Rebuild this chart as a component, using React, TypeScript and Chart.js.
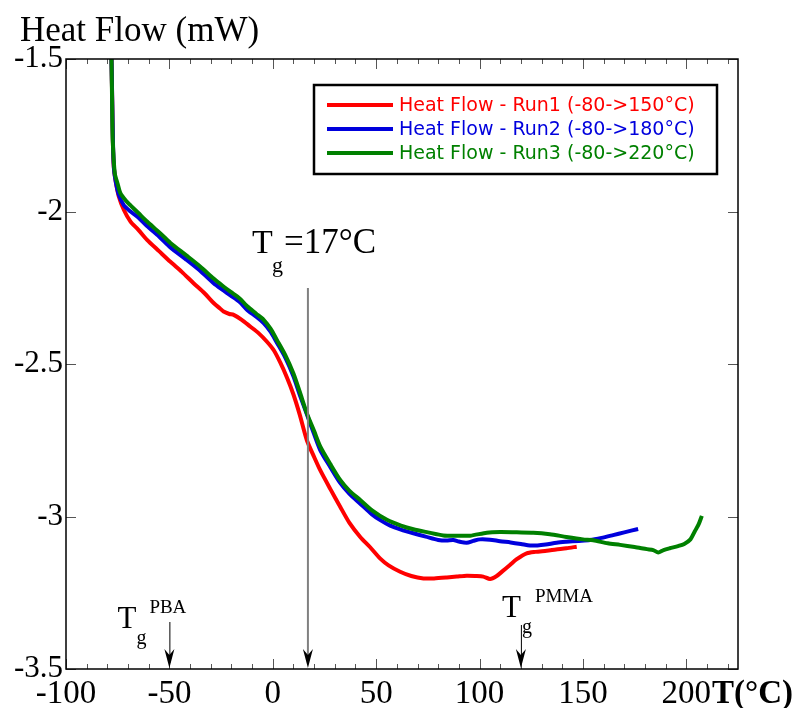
import React, { useEffect, useRef } from 'react';
import { Chart, registerables } from 'chart.js';

Chart.register(...registerables);

// ---- data ----
const run1Temp = [-78, -77.6, -77.3, -76.9, -76, -74.5, -72, -68.8, -65, -60.8, -55, -49.5, -44, -38.3, -33, -28.6, -25.5, -23.8, -21, -18.9, -15, -10.9, -7, -2.8, 0.5, 3.6, 6.9, 10, 13, 16.5, 20, 23, 28, 32.6, 37, 42.3, 47, 52, 56, 61.6, 67, 72.9, 78, 84.2, 89, 93.8, 98, 101.8, 105.1, 108.3, 111, 114.7, 118, 122.8, 127, 132.5, 137, 142, 147];
const run1Flow = [-1.5, -1.66, -1.78, -1.853, -1.9, -1.95, -1.995, -2.033, -2.06, -2.093, -2.13, -2.165, -2.198, -2.235, -2.268, -2.3, -2.318, -2.328, -2.336, -2.339, -2.355, -2.377, -2.398, -2.427, -2.455, -2.495, -2.545, -2.6, -2.665, -2.75, -2.805, -2.849, -2.912, -2.968, -3.02, -3.067, -3.1, -3.138, -3.16, -3.181, -3.195, -3.203, -3.203, -3.2, -3.197, -3.194, -3.195, -3.197, -3.205, -3.195, -3.18, -3.159, -3.14, -3.121, -3.116, -3.112, -3.108, -3.104, -3.099];

const run2Temp = [-78, -77.6, -77.3, -76.8, -76, -74.5, -72, -68.8, -65, -60.8, -55, -49.5, -42, -35, -28.6, -24, -20.5, -16, -12.5, -8, -4.4, -1, 2, 6, 10, 13, 16.5, 20, 23, 28, 32.6, 37, 42.3, 48, 52, 56.8, 62, 68, 74, 80, 84, 87.3, 90, 93.8, 97, 100.2, 105, 109.9, 115, 120, 124.4, 128, 132, 137.3, 142, 148, 153.4, 159, 164.6, 170, 176.7];
const run2Flow = [-1.5, -1.65, -1.77, -1.86, -1.9, -1.945, -1.98, -2.0, -2.02, -2.048, -2.082, -2.118, -2.157, -2.195, -2.235, -2.258, -2.275, -2.297, -2.322, -2.345, -2.366, -2.395, -2.43, -2.478, -2.54, -2.6, -2.665, -2.73, -2.783, -2.84, -2.89, -2.925, -2.958, -2.993, -3.012, -3.03, -3.043, -3.055, -3.066, -3.077, -3.079, -3.077, -3.082, -3.086, -3.08, -3.075, -3.076, -3.081, -3.085, -3.09, -3.095, -3.095, -3.092, -3.086, -3.083, -3.08, -3.077, -3.07, -3.061, -3.052, -3.041];

const run3Temp = [-78, -77.7, -77.4, -76.4, -75, -73.7, -71, -68.8, -65, -60.8, -55, -49.5, -42, -35, -28.6, -24, -20.5, -16, -12.5, -8, -4.4, -1, 2, 6, 10, 13, 16.5, 20, 23, 28, 32.6, 37, 42.3, 48, 55.2, 62, 68, 75, 82.5, 89, 95.4, 103.5, 110, 118, 126, 134, 142, 150, 155, 162, 168, 175, 181, 184, 186.4, 189, 192, 196, 199, 202, 204, 206, 207.5];
const run3Flow = [-1.5, -1.64, -1.766, -1.875, -1.91, -1.94, -1.965, -1.98, -2.005, -2.033, -2.068, -2.103, -2.143, -2.181, -2.22, -2.245, -2.263, -2.285, -2.31, -2.335, -2.355, -2.385, -2.421, -2.47, -2.531, -2.59, -2.662, -2.72, -2.771, -2.83, -2.88, -2.915, -2.946, -2.98, -3.011, -3.03, -3.042, -3.052, -3.062, -3.063, -3.063, -3.053, -3.051, -3.052, -3.053, -3.058, -3.067, -3.075, -3.078, -3.088, -3.093, -3.1, -3.107, -3.11, -3.118, -3.11, -3.104, -3.097, -3.09, -3.075, -3.05, -3.025, -2.998];

const seriesLabels = ['Heat Flow - Run1 (-80->150°C)', 'Heat Flow - Run2 (-80->180°C)', 'Heat Flow - Run3 (-80->220°C)'];
const seriesColors = ['#ff0000', '#0000dd', '#008000'];

const xTickValues = [-100, -50, 0, 50, 100, 150, 200];
const yTickValues = [-1.5, -2, -2.5, -3, -3.5];
const xMin = -100;
const xMax = 225;
const xMajorStep = 50;
const xMinorStep = 10;
const yMin = -3.5;
const yMax = -1.5;

const tgMain = 17;
const tgPBA = -50;
const tgPMMA = 120;

const SERIF = '"Liberation Serif", "Times New Roman", serif';
const SANS = '"DejaVu Sans", Verdana, sans-serif';

function arrowHead(ctx: CanvasRenderingContext2D, px: number, tipY: number) {
  ctx.fillStyle = '#000';
  ctx.beginPath();
  ctx.moveTo(px, tipY);
  ctx.lineTo(px - 5, tipY - 19);
  ctx.lineTo(px, tipY - 13);
  ctx.lineTo(px + 5, tipY - 19);
  ctx.closePath();
  ctx.fill();
}

const overlayPlugin = {
  id: 'overlay',
  afterDatasetsDraw(chart: any) {
    const { ctx, chartArea: a, scales } = chart;
    const x = scales.x;
    const y = scales.y;
    ctx.save();

    // tick marks (inward)
    ctx.strokeStyle = '#555';
    ctx.lineWidth = 1;
    ctx.beginPath();
    for (let t = xMin; t <= xMax; t += xMinorStep) {
      const px = Math.round(x.getPixelForValue(t)) + 0.5;
      const len = t % xMajorStep === 0 ? 10 : 5;
      ctx.moveTo(px, a.bottom);
      ctx.lineTo(px, a.bottom - len);
      ctx.moveTo(px, a.top);
      ctx.lineTo(px, a.top + len);
    }
    yTickValues.forEach((v) => {
      const py = Math.round(y.getPixelForValue(v)) + 0.5;
      ctx.moveTo(a.left, py);
      ctx.lineTo(a.left + 10, py);
      ctx.moveTo(a.right, py);
      ctx.lineTo(a.right - 10, py);
    });
    ctx.stroke();

    // frame
    ctx.strokeStyle = '#000';
    ctx.lineWidth = 1.5;
    ctx.strokeRect(a.left, a.top, a.right - a.left, a.bottom - a.top);

    // Tg = 17°C marker
    const pm = x.getPixelForValue(tgMain);
    ctx.strokeStyle = '#808080';
    ctx.lineWidth = 2;
    ctx.beginPath();
    ctx.moveTo(pm, 288);
    ctx.lineTo(pm, a.bottom - 6);
    ctx.stroke();
    arrowHead(ctx, pm, a.bottom - 1);

    // PBA / PMMA arrows
    const pb = x.getPixelForValue(tgPBA);
    const pp = x.getPixelForValue(tgPMMA);
    ctx.strokeStyle = '#000';
    ctx.lineWidth = 1;
    ctx.beginPath();
    ctx.moveTo(pb + 0.5, 622);
    ctx.lineTo(pb + 0.5, a.bottom - 6);
    ctx.moveTo(pp + 0.5, 625);
    ctx.lineTo(pp + 0.5, a.bottom - 6);
    ctx.stroke();
    arrowHead(ctx, pb, a.bottom - 1);
    arrowHead(ctx, pp, a.bottom - 1);

    // annotation texts
    ctx.fillStyle = '#000';
    ctx.textBaseline = 'alphabetic';
    ctx.textAlign = 'left';
    ctx.font = `34px ${SERIF}`;
    ctx.fillText('T', pm - 56, 253);
    ctx.font = `22px ${SERIF}`;
    ctx.fillText('g', pm - 36, 272);
    ctx.font = `35px ${SERIF}`;
    ctx.fillText('=17°C', pm - 24, 253);

    ctx.font = `31px ${SERIF}`;
    ctx.fillText('T', pb - 52, 628);
    ctx.font = `20px ${SERIF}`;
    ctx.fillText('g', pb - 33, 644);
    ctx.font = `19px ${SERIF}`;
    ctx.fillText('PBA', pb - 20, 613);

    ctx.font = `31px ${SERIF}`;
    ctx.fillText('T', pp - 19, 617);
    ctx.font = `20px ${SERIF}`;
    ctx.fillText('g', pp + 1, 633);
    ctx.font = `19px ${SERIF}`;
    ctx.fillText('PMMA', pp + 14, 602);

    // axis titles
    ctx.font = `35px ${SERIF}`;
    ctx.fillText('Heat Flow (mW)', 20, 41);
    ctx.font = `bold 33px ${SERIF}`;
    ctx.fillText('T(°C)', 712, 703);

    // legend
    const lx = a.left + 248;
    const ly = a.top + 26;
    ctx.strokeStyle = '#000';
    ctx.lineWidth = 2.5;
    ctx.strokeRect(lx, ly, 403, 89);
    ctx.font = `19px ${SANS}`;
    ctx.textBaseline = 'middle';
    chart.data.datasets.forEach((ds: any, i: number) => {
      const yy = ly + 20 + i * 24;
      ctx.strokeStyle = ds.borderColor;
      ctx.lineWidth = 4;
      ctx.beginPath();
      ctx.moveTo(lx + 13, yy);
      ctx.lineTo(lx + 79, yy);
      ctx.stroke();
      ctx.fillStyle = ds.borderColor;
      ctx.fillText(ds.label, lx + 85, yy + 1);
    });

    ctx.restore();
  },
};

export default function App() {
  const ref = useRef<HTMLCanvasElement | null>(null);

  useEffect(() => {
    if (!ref.current) return;
    const temps = [run1Temp, run2Temp, run3Temp];
    const flows = [run1Flow, run2Flow, run3Flow];
    const chart = new Chart(ref.current, {
      type: 'line',
      data: {
        datasets: temps.map((tt, i) => ({
          label: seriesLabels[i],
          data: tt.map((t, j) => ({ x: t, y: flows[i][j] })),
          borderColor: seriesColors[i],
          backgroundColor: seriesColors[i],
          borderWidth: 4,
          pointRadius: 0,
          tension: 0.25,
          fill: false,
          order: 3 - i,
        })),
      },
      options: {
        animation: false,
        responsive: false,
        events: [],
        layout: { padding: { top: 59, right: 61, left: 0, bottom: 0 } },
        plugins: {
          legend: { display: false },
          tooltip: { enabled: false },
        },
        scales: {
          x: {
            type: 'linear',
            min: xMin,
            max: xMax,
            grid: { display: false, drawTicks: false },
            border: { display: false },
            ticks: {
              color: '#000',
              font: { family: SERIF, size: 33 },
              padding: 6,
              maxRotation: 0,
              autoSkip: false,
              callback: (v: any) => String(Number(v)),
            },
            afterBuildTicks: (scale: any) => {
              scale.ticks = xTickValues.map((v) => ({ value: v }));
            },
            afterFit: (scale: any) => {
              scale.height = 39;
            },
          },
          y: {
            type: 'linear',
            min: yMin,
            max: yMax,
            grid: { display: false, drawTicks: false },
            border: { display: false },
            ticks: {
              color: '#000',
              font: { family: SERIF, size: 31 },
              padding: 3,
              autoSkip: false,
              callback: (v: any) => String(Number(v)),
            },
            afterBuildTicks: (scale: any) => {
              scale.ticks = yTickValues.map((v) => ({ value: v }));
            },
            afterFit: (scale: any) => {
              scale.width = 66;
            },
          },
        },
      },
      plugins: [overlayPlugin],
    });
    return () => chart.destroy();
  }, []);

  return (
    <div style={{ position: 'absolute', left: 0, top: 0, width: 799, height: 708, background: '#fff' }}>
      <canvas ref={ref} width={799} height={708} style={{ display: 'block' }} />
    </div>
  );
}
